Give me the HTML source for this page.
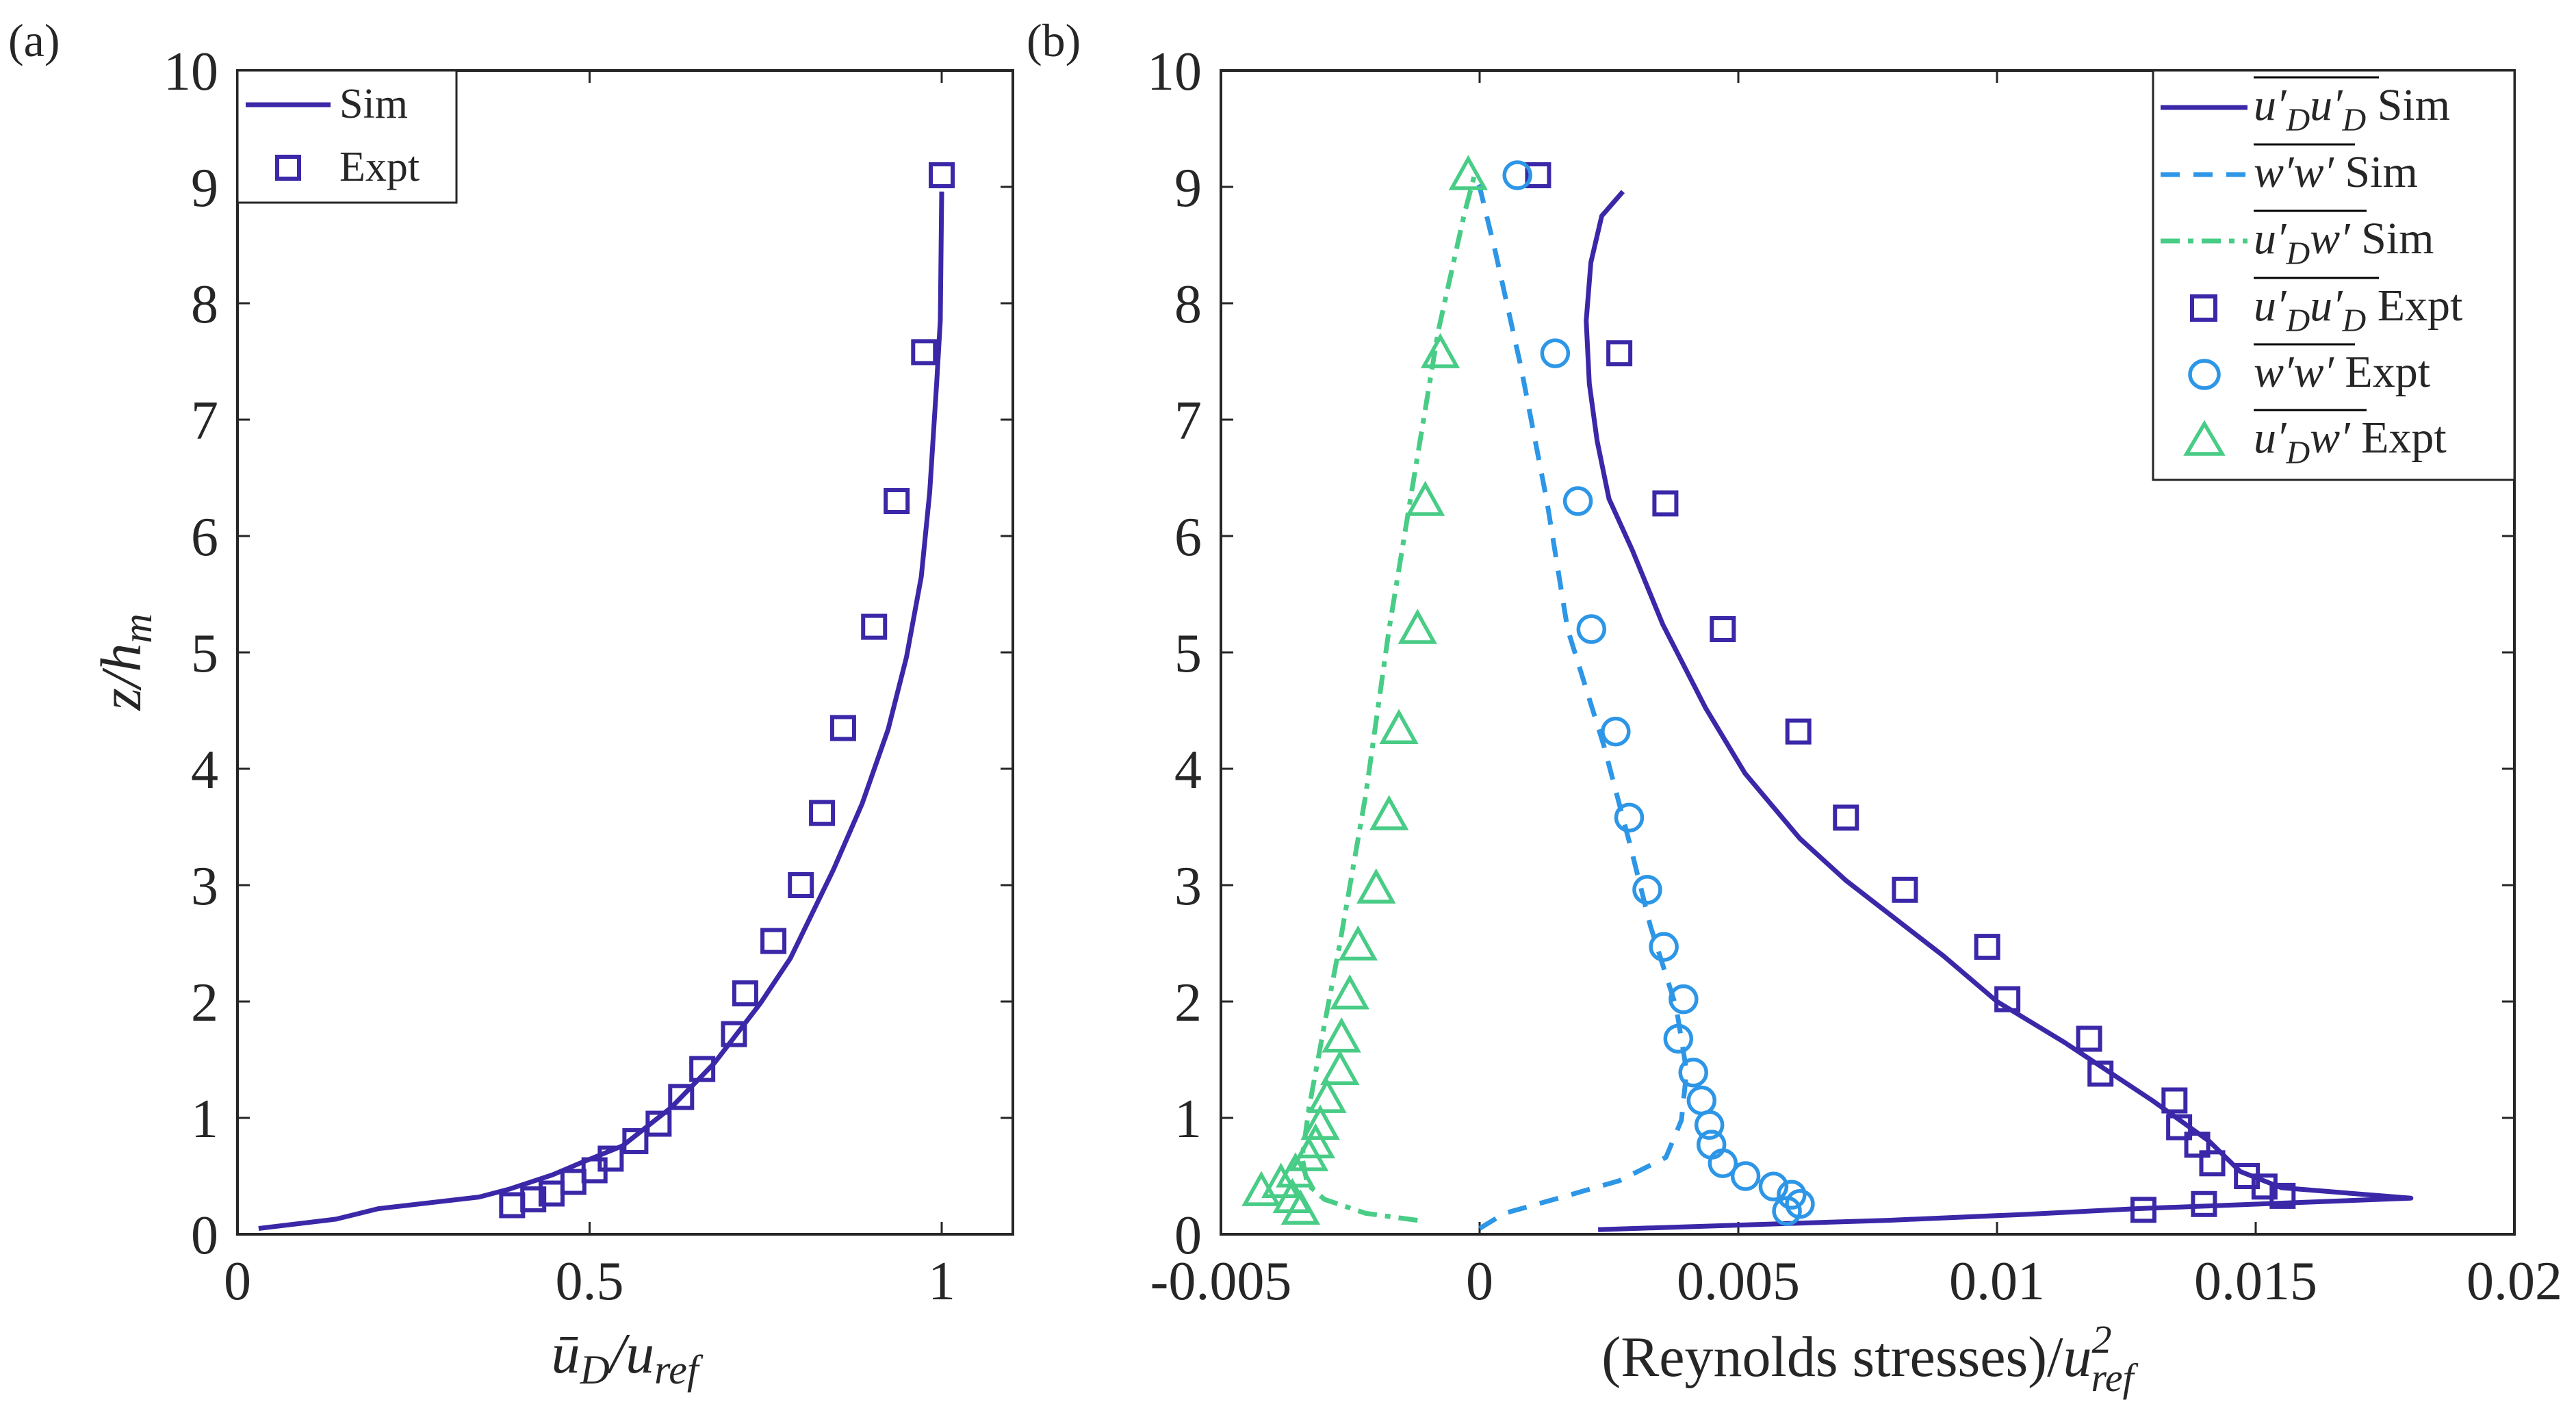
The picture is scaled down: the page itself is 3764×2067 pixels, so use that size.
<!DOCTYPE html>
<html><head><meta charset="utf-8">
<style>
html,body{margin:0;padding:0;background:#fff;}
svg{display:block;}
text{font-family:"Liberation Serif",serif;fill:#262626;}
.tick{font-size:80px;}
.math{font-style:italic;}
</style></head>
<body>
<svg id="fig" width="3764" height="2067" viewBox="0 0 3764 2067" xmlns="http://www.w3.org/2000/svg">
<g id="pa"></g>
<g id="pb"></g>
</svg>
<script>
// ---- Panel (a) data ----
const aSimX=[0.03,0.14,0.2,0.343,0.387,0.447,0.486,0.547,0.616,0.677,0.742,0.785,0.846,0.887,0.924,0.95,0.971,0.983,0.993,0.998,1.0];
const aSimZ=[0.05,0.13,0.22,0.32,0.39,0.51,0.61,0.76,1.09,1.47,1.98,2.37,3.13,3.7,4.34,4.96,5.65,6.38,7.33,7.85,8.96];
const aExpX=[1.0,0.975,0.936,0.904,0.86,0.83,0.8,0.761,0.721,0.705,0.66,0.63,0.598,0.565,0.53,0.507,0.477,0.446,0.42,0.39];
const aExpZ=[9.1,7.58,6.3,5.22,4.35,3.62,3.0,2.52,2.07,1.72,1.42,1.18,0.95,0.8,0.65,0.55,0.45,0.35,0.3,0.25];
const aXTicks=[0,0.5,1];
const aXLabels=["0","0.5","1"];
const yTicks=[0,1,2,3,4,5,6,7,8,9,10];
// ---- Panel (b) data ----
const uuSimX=[0.00229,0.0079,0.0105,0.0127,0.018,0.0155,0.0147,0.0141,0.013,0.0113,0.01,0.00897,0.00708,0.00619,0.00513,0.00437,0.00354,0.00295,0.0025,0.00227,0.00212,0.00206,0.00215,0.00236,0.00277];
const uuSimZ=[0.04,0.12,0.17,0.22,0.31,0.4,0.54,0.8,1.15,1.65,2.0,2.39,3.04,3.4,3.96,4.52,5.24,5.88,6.32,6.82,7.31,7.85,8.35,8.75,8.96];
const wwSimX=[0,0.00048,0.0016,0.0027,0.0036,0.0039,0.004,0.0038,0.0033,0.0029,0.0024,0.0017,0.0013,0.0008,0.0003,0.0,-0.0001];
const wwSimZ=[0.05,0.18,0.32,0.46,0.66,0.98,1.4,1.95,2.65,3.36,4.2,5.2,6.3,7.45,8.45,9.0,9.1];
const uwSimX=[-0.0012,-0.0022,-0.003,-0.00333,-0.00343,-0.0033,-0.003,-0.0027,-0.0022,-0.00175,-0.00127,-0.0008,-0.0003,-0.0001];
const uwSimZ=[0.12,0.18,0.3,0.43,0.66,1.08,1.8,2.5,3.78,5.2,6.5,7.76,8.76,9.1];
const uuExpX=[0.00113,0.0027,0.00359,0.0047,0.00616,0.00708,0.00822,0.00981,0.0102,0.01178,0.012,0.01343,0.01352,0.01387,0.01416,0.01483,0.01517,0.01552,0.014,0.01283];
const uuExpZ=[9.1,7.57,6.28,5.2,4.32,3.58,2.96,2.47,2.02,1.68,1.38,1.15,0.92,0.77,0.61,0.5,0.41,0.33,0.26,0.21];
const wwExpX=[0.00073,0.00146,0.0019,0.00216,0.00263,0.00289,0.00324,0.00356,0.00394,0.00384,0.00413,0.00429,0.00444,0.00448,0.0047,0.00514,0.00568,0.00603,0.00619,0.00594];
const wwExpZ=[9.1,7.57,6.3,5.2,4.32,3.58,2.96,2.47,2.02,1.68,1.39,1.15,0.94,0.77,0.61,0.5,0.41,0.34,0.26,0.2];
const uwExpX=[-0.00022,-0.00076,-0.00105,-0.0012,-0.00156,-0.00175,-0.002,-0.00235,-0.00251,-0.00267,-0.0027,-0.00295,-0.00308,-0.00317,-0.0033,-0.00356,-0.00384,-0.00422,-0.00362,-0.00346];
const uwExpZ=[9.1,7.57,6.3,5.2,4.34,3.6,2.97,2.48,2.06,1.69,1.41,1.17,0.94,0.78,0.67,0.53,0.44,0.37,0.31,0.21];
const bXTicks=[-0.005,0,0.005,0.01,0.015,0.02];
const bXLabels=["-0.005","0","0.005","0.01","0.015","0.02"];

const NS="http://www.w3.org/2000/svg";
const C1="#3a28a8",C2="#2d96e6",C3="#48cc86",AX="#262626";
function mk(parent,tag,attrs){const e=document.createElementNS(NS,tag);for(const k in attrs)e.setAttribute(k,attrs[k]);parent.appendChild(e);return e;}

const Y0=1803,Y10=103;
function yS(z){return Y0+(Y10-Y0)*z/10;}
function axA(x){return 347+(1376-347)*x;}
function axB(x){return 1784+(3674-1784)*(x+0.005)/0.025;}

function frame(g,L,R,xt,xl,xs){
  for(const t of yTicks){
    const y=yS(t);
    let l=mk(g,'line',{x1:L,x2:L+18,y1:y,y2:y,stroke:AX,'stroke-width':3});
    
    
    l=mk(g,'line',{x1:R-18,x2:R,y1:y,y2:y,stroke:AX,'stroke-width':3});
    
    
    const tx=mk(g,'text',{x:L-28,y:y+28,'text-anchor':'end',class:'tick'});
    tx.textContent=String(t);
    
    
  }
  xt.forEach((t,i)=>{
    const x=xs(t);
    let l=mk(g,'line',{x1:x,x2:x,y1:Y0,y2:Y0-18,stroke:AX,'stroke-width':3});
    
    
    l=mk(g,'line',{x1:x,x2:x,y1:Y10,y2:Y10+18,stroke:AX,'stroke-width':3});
    
    
    const tx=mk(g,'text',{x:x,y:1898,'text-anchor':'middle',class:'tick'});
    tx.textContent=xl[i];
    
    
  });
  const r=mk(g,'rect',{x:L,y:Y10,width:R-L,height:Y0-Y10,fill:'none',stroke:AX,'stroke-width':4});
  
  
}
function line(g,xs,X,Z,col,dash,name){
  const p=mk(g,'polyline',{points:X.map((x,i)=>xs(x)+','+yS(Z[i])).join(' '),fill:'none',stroke:col,'stroke-width':7,'stroke-linejoin':'round'});
  if(dash)p.setAttribute('stroke-dasharray',dash);
  
  
}
function markers(g,xs,X,Z,col,kind,name){
  X.forEach((x,i)=>{
    const cx=xs(x),cy=yS(Z[i]);let m;
    if(kind==='sq')m=mk(g,'rect',{x:cx-16,y:cy-16,width:32,height:32,fill:'none',stroke:col,'stroke-width':6});
    else if(kind==='ci')m=mk(g,'ellipse',{cx:cx,cy:cy,rx:19,ry:19,fill:'none',stroke:col,'stroke-width':5.5});
    else m=mk(g,'polygon',{points:`${cx},${cy-24} ${cx-24},${cy+19} ${cx+24},${cy+19}`,fill:'none',stroke:col,'stroke-width':5.5});
    
    
  });
}
function txt(g,x,y,s,size,name,extra){
  const t=mk(g,'text',Object.assign({x:x,y:y,'font-size':size},extra||{}));t.textContent=s;
  
  
  return t;
}

// Panel a
const pa=document.getElementById('pa');
frame(pa,347,1480,aXTicks,aXLabels,axA);
line(pa,axA,aSimX,aSimZ,C1,null,'sim-line');
markers(pa,axA,aExpX,aExpZ,C1,'sq','expt-marker');
txt(pa,12,82,'(a)',68,'panel-label-a');
{const t=txt(pa,0,0,'',84,'y-axis-title',{transform:'translate(205,967) rotate(-90)','text-anchor':'middle',class:'math'});
 t.innerHTML='z/h<tspan font-size="60" dy="16">m</tspan>';}
{const t=txt(pa,913,2005,'',84,'x-axis-title',{'text-anchor':'middle',class:'math'});
 t.innerHTML='ū<tspan font-size="60" dy="16">D</tspan><tspan dy="-16">/u</tspan><tspan font-size="60" dy="16">ref</tspan>';}
// legend a
{const lg=mk(pa,'g',{});
 
 
 mk(lg,'rect',{x:347,y:103,width:320,height:193,fill:'#fff',stroke:AX,'stroke-width':3});
 mk(lg,'line',{x1:359,x2:483,y1:153,y2:153,stroke:C1,'stroke-width':7});
 mk(lg,'rect',{x:405,y:229,width:32,height:32,fill:'none',stroke:C1,'stroke-width':6});
 txt(lg,496,172,'Sim',62,'legend-entry-sim');
 txt(lg,496,264,'Expt',62,'legend-entry-expt');}

// Panel b
const pb=document.getElementById('pb');
frame(pb,1784,3674,bXTicks,bXLabels,axB);
line(pb,axB,uuSimX,uuSimZ,C1,null,'uu-sim-line');
line(pb,axB,wwSimX,wwSimZ,C2,'28 20','ww-sim-line');
line(pb,axB,uwSimX,uwSimZ,C3,'28 12 8 12','uw-sim-line');
markers(pb,axB,uuExpX,uuExpZ,C1,'sq','uu-expt-marker');
markers(pb,axB,wwExpX,wwExpZ,C2,'ci','ww-expt-marker');
markers(pb,axB,uwExpX,uwExpZ,C3,'tr','uw-expt-marker');
txt(pb,1500,82,'(b)',68,'panel-label-b');
{const t=txt(pb,2729,2010,'',84,'x-axis-title',{'text-anchor':'middle'});
 t.innerHTML='(Reynolds stresses)/<tspan font-style="italic">u</tspan><tspan font-size="58" dy="-34" font-style="italic">2</tspan><tspan font-size="58" dx="-30" dy="56" font-style="italic">ref</tspan>';}
// legend b
{const lg=mk(pb,'g',{});
 
 
 mk(lg,'rect',{x:3146,y:103,width:528,height:598,fill:'#fff',stroke:AX,'stroke-width':3});
 const rows=[157,255,352,450,547,643];
 const labels=[["u′","D","u′","D"," Sim"],["w′w′",""," Sim"],["u′","D","w′"," Sim"],["u′","D","u′","D"," Expt"],["w′w′",""," Expt"],["u′","D","w′"," Expt"]];
 const barW=[183,148,165,183,148,165];
 mk(lg,'line',{x1:3157,x2:3284,y1:rows[0],y2:rows[0],stroke:C1,'stroke-width':7});
 mk(lg,'line',{x1:3157,x2:3284,y1:rows[1],y2:rows[1],stroke:C2,'stroke-width':7,'stroke-dasharray':'28 20'});
 mk(lg,'line',{x1:3157,x2:3284,y1:rows[2],y2:rows[2],stroke:C3,'stroke-width':7,'stroke-dasharray':'28 12 8 12'});
 mk(lg,'rect',{x:3203,y:rows[3]-17,width:34,height:34,fill:'none',stroke:C1,'stroke-width':6});
 mk(lg,'ellipse',{cx:3221,cy:rows[4],rx:21,ry:20,fill:'none',stroke:C2,'stroke-width':5.5});
 mk(lg,'polygon',{points:`3221,${rows[5]-24} 3195,${rows[5]+20} 3247,${rows[5]+20}`,fill:'none',stroke:C3,'stroke-width':5.5});
 rows.forEach((y,i)=>{
   mk(lg,'line',{x1:3293,x2:3293+barW[i],y1:y-44,y2:y-44,stroke:'#000','stroke-width':3});
   const t=txt(lg,3293,y+18,'',66,'legend-entry');
   const L=labels[i];let h='';
   if(L.length===5)h=`<tspan font-style="italic">${L[0]}</tspan><tspan font-size="48" font-style="italic" dy="16">${L[1]}</tspan><tspan font-style="italic" dy="-16">${L[2]}</tspan><tspan font-size="48" font-style="italic" dy="16">${L[3]}</tspan><tspan dy="-16">${L[4]}</tspan>`;
   else if(L.length===4)h=`<tspan font-style="italic">${L[0]}</tspan><tspan font-size="48" font-style="italic" dy="16">${L[1]}</tspan><tspan font-style="italic" dy="-16">${L[2]}</tspan><tspan>${L[3]}</tspan>`;
   else h=`<tspan font-style="italic">${L[0]}</tspan><tspan>${L[2]}</tspan>`;
   t.innerHTML=h;
   t.setAttribute('fill','#000');
 });}
</script>
</body></html>
